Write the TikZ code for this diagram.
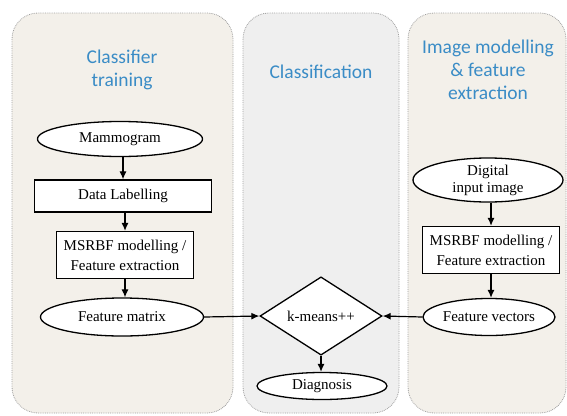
\documentclass[tikz,border=0pt]{standalone}
\usepackage{fontspec}
\setmainfont{Liberation Serif}
\newfontfamily\titlefont{Carlito}
\usetikzlibrary{shapes.geometric,arrows.meta}
\definecolor{beige}{HTML}{F3F0EA}
\definecolor{panelgray}{HTML}{EFEFEF}
\definecolor{titleblue}{HTML}{3A8CC6}
\definecolor{bordergray}{HTML}{A0A0A0}
\tikzset{
  panel/.style={draw=bordergray, densely dotted, line width=0.8pt, rounded corners=26pt},
  ptitle/.style={text=titleblue, font=\titlefont\fontsize{19.5}{23}\selectfont, align=center},
  oval/.style={ellipse, draw, line width=1.3pt, fill=white, inner sep=0pt, font=\fontsize{15}{17}\selectfont, align=center},
  boxn/.style={rectangle, draw, line width=1.3pt, fill=white, inner sep=0pt, font=\fontsize{15}{20}\selectfont, align=center},
  dia/.style={diamond, draw, line width=1.3pt, fill=white, inner sep=0pt, font=\fontsize{15}{17}\selectfont},
  arr/.style={-{Latex[length=8pt,width=7pt]}, line width=1.2pt}
}
\begin{document}
\begin{tikzpicture}[x=1pt,y=-1pt]
\useasboundingbox (0,0) rectangle (567,415);
\fill[white] (0,0) rectangle (567,415);
% panels
\draw[panel, fill=beige] (12,13) rectangle (233,413);
\draw[panel, fill=panelgray] (243,13) rectangle (399,413);
\draw[panel, fill=beige] (408,13) rectangle (566,413);
% titles
\node[ptitle] (t1) at (122,70) {Classifier\\training};
\node[ptitle] (t2) at (321,72) {Classification};
\node[ptitle] (t3) at (488,70) {Image modelling\\\& feature\\extraction};
% left column
\node[oval, minimum width=165pt, minimum height=35pt] (mam) at (120,139) {Mammogram};
\node[boxn, minimum width=177pt, minimum height=32pt] (lab) at (123,196) {Data Labelling};
\node[boxn, minimum width=137pt, minimum height=47pt] (msl) at (125,255) {MSRBF modelling /\\Feature extraction};
\node[oval, minimum width=163pt, minimum height=38pt] (fm) at (122,317) {Feature matrix};
% middle
\node[dia, minimum width=122pt, minimum height=76pt] (km) at (321,316) {k-means++};
\node[oval, minimum width=130pt, minimum height=27pt] (dg) at (322,386) {Diagnosis};
% right
\node[oval, minimum width=150pt, minimum height=44pt] (dig) at (488,180) {Digital\\input image};
\node[boxn, minimum width=137pt, minimum height=47pt] (msr) at (491,250) {MSRBF modelling /\\Feature extraction};
\node[oval, minimum width=132pt, minimum height=37pt] (fv) at (489,317) {Feature vectors};
% arrows
\draw[arr] (mam.south -| lab.north) -- (lab.north);
\draw[arr] (lab.south -| msl.north) -- (msl.north);
\draw[arr] (msl.south) -- (msl.south |- fm.north);
\draw[arr] (fm.east) -- (km.west);
\draw[arr] (fv.west) -- (km.east);
\draw[arr] (km.south) -- (km.south |- dg.north);
\draw[arr] (dig.south -| msr.north) -- (msr.north);
\draw[arr] (msr.south) -- (msr.south |- fv.north);
\end{tikzpicture}
\end{document}
